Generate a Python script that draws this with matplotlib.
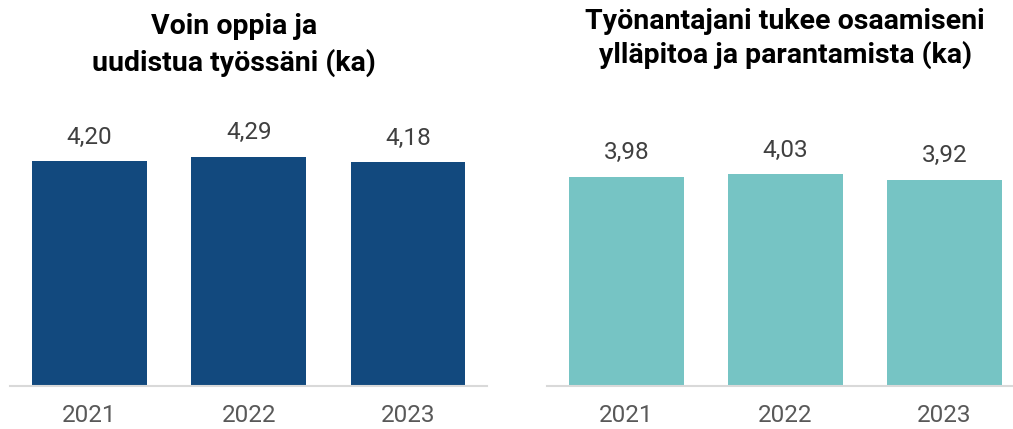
import matplotlib
matplotlib.use("Agg")
import matplotlib.pyplot as plt

plt.rcParams['font.family'] = ['Roboto', 'DejaVu Sans']

# data
years = ['2021', '2022', '2023']
left_values = [4.20, 4.29, 4.18]
right_values = [3.98, 4.03, 3.92]
left_title = 'Voin oppia ja\nuudistua työssäni (ka)'
right_title = 'Työnantajani tukee osaamiseni\nylläpitoa ja parantamista (ka)'

W, H = 1013, 429
fig = plt.figure(figsize=(W / 100, H / 100), dpi=100)

panels = [
    # (values, colour, left px, ylim top, title, title centre px, title top px, linespacing)
    (left_values, '#12497e', 10, 5.35, left_title, 234, 13, 1.42),
    (right_values, '#76c4c4', 546.7, 5.44, right_title, 785, 8, 1.26),
]

base_px = 385.7
top_px = 100
for vals, col, x0, ytop, title, t_cx, t_top, ls in panels:
    ax = fig.add_axes([x0 / W, (H - base_px) / H, 477.5 / W, (base_px - top_px) / H])
    xs = range(len(years))
    bars = ax.bar(xs, vals, width=0.72, color=col, zorder=2)
    ax.set_xlim(-0.5, 2.5)
    ax.set_ylim(0, ytop)
    for s in ['top', 'right', 'left']:
        ax.spines[s].set_visible(False)
    ax.spines['bottom'].set_color('#d9d9d9')
    ax.spines['bottom'].set_linewidth(1.5)
    ax.spines['bottom'].set_zorder(3)
    ax.set_yticks([])
    ax.set_xticks(list(xs))
    ax.set_xticklabels(years, fontsize=17.5, color='#595959')
    ax.tick_params(axis='x', length=0, pad=13)
    for b, v in zip(bars, vals):
        ax.annotate(f'{v:.2f}'.replace('.', ','),
                    (b.get_x() + b.get_width() / 2, v),
                    xytext=(0, 9), textcoords='offset points',
                    ha='center', va='bottom', fontsize=17.5, color='#404040')
    fig.text(t_cx / W, 1 - t_top / H, title, ha='center', va='top',
             fontsize=20.5, fontweight='bold', color='black', linespacing=ls)

fig.savefig('out.png', dpi=100)
